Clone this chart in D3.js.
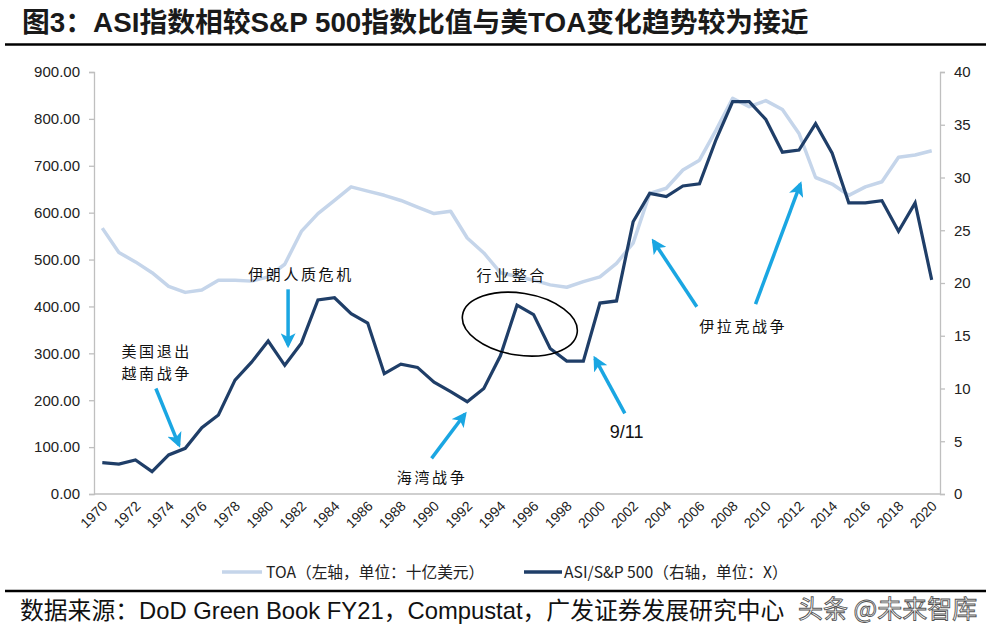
<!DOCTYPE html>
<html lang="zh">
<head>
<meta charset="UTF-8">
<title>ASI / S&P 500 vs TOA</title>
<script src="https://d3js.org/d3.v7.min.js"></script>
<style>
  html, body { margin: 0; padding: 0; background: #fff; }
  svg { display: block; }
  .title { font-family: "Liberation Sans", "Noto Sans CJK SC", sans-serif; font-weight: bold; font-size: 27.8px; fill: #1a1a1a; }
  .tick-l text, .tick-r text { font-family: "Liberation Sans", Arial, sans-serif; font-size: 15px; fill: #222; }
  .xlab { font-family: "Liberation Sans", Arial, sans-serif; font-size: 14px; fill: #222; }
  .note { font-family: "Noto Sans CJK SC", sans-serif; font-size: 15px; fill: #111; letter-spacing: 2.6px; }
  .legend { font-family: "Liberation Sans Narrow", "Noto Sans CJK SC", sans-serif; font-size: 15.7px; fill: #222; }
  .source { font-family: "Liberation Sans", "Noto Sans CJK SC", sans-serif; font-size: 23.8px; fill: #111; }
</style>
</head>
<body>
<svg id="chart" width="1002" height="634"></svg>
<script>
// --- data ---
const years = d3.range(1970, 2021);
const yearLabels = years.filter(y => y % 2 === 0);

// TOA, left axis, billion USD
const toa = [567, 515, 495, 472, 443, 430, 435, 456, 456, 454,
             463, 490, 560, 598, 626, 655, 646, 637, 626, 612,
             598, 603, 546, 514, 472, 464, 456, 446, 441, 453,
             463, 492, 535, 641, 652, 691, 712, 776, 844, 826,
             839, 820, 769, 675, 661, 637, 655, 666, 718, 723, 732];

// ASI / S&P 500 ratio, right axis
const ratio = [2.97, 2.84, 3.22, 2.12, 3.70, 4.33, 6.29, 7.49, 10.8, 12.5,
               14.5, 12.2, 14.3, 18.4, 18.6, 17.1, 16.2, 11.4, 12.3, 12.0,
               10.6, 9.7, 8.75, 10.0, 13.1, 17.9, 17.0, 13.8, 12.6, 12.6,
               18.1, 18.3, 25.8, 28.5, 28.2, 29.2, 29.4, 33.6, 37.2, 37.2,
               35.5, 32.4, 32.6, 35.1, 32.3, 27.6, 27.6, 27.8, 24.9, 27.6, 20.3];

const leftTicks = d3.range(0, 901, 100);
const rightTicks = d3.range(0, 41, 5);

// annotations placed in (year, right-axis value) space
const notes = [
  { lines: ["伊朗人质危机"], x: 1981.9, v: 20.3 },
  { lines: ["美国退出", "越南战争"], x: 1973.2, v: 13.0 },
  { lines: ["海湾战争"], x: 1989.8, v: 1.04 },
  { lines: ["行业整合"], x: 1994.6, v: 20.2 },
  { lines: ["伊拉克战争"], x: 2008.56, v: 15.36 }
];
const arrows = [
  { x1: 1981.2, v1: 19.4, x2: 1981.2, v2: 14.1 },
  { x1: 1973.23, v1: 10.0, x2: 1974.62, v2: 4.64 },
  { x1: 1989.85, v1: 3.38, x2: 1991.86, v2: 7.58 },
  { x1: 2001.5, v1: 7.65, x2: 1999.7, v2: 12.86 },
  { x1: 2005.84, v1: 17.75, x2: 2003.22, v2: 23.98 },
  { x1: 2009.38, v1: 18.0, x2: 2012.08, v2: 29.38 }
];

// --- layout ---
const svg = d3.select("#chart");
const plotL = 94, plotR = 940, plotT = 72, plotB = 494;

const x = d3.scalePoint().domain(years).range([plotL, plotR]).padding(0.5);
const xv = yr => x(1970) + (yr - 1970) * x.step();   // fractional years for notes
const yL = d3.scaleLinear().domain([0, 900]).range([plotB, plotT]);
const yR = d3.scaleLinear().domain([0, 40]).range([plotB, plotT]);

// title + rule
svg.append("text").attr("class", "title").attr("x", 22).attr("y", 32)
  .text("图3：ASI指数相较S&P 500指数比值与美TOA变化趋势较为接近");
svg.append("line").attr("x1", 5).attr("x2", 986).attr("y1", 44.5).attr("y2", 44.5)
  .attr("stroke", "#000").attr("stroke-width", 2.5);

// axes
const axisColor = "#bfbfbf";
const gl = svg.append("g").attr("class", "tick-l").attr("transform", `translate(${plotL},0)`)
  .call(d3.axisLeft(yL).tickValues(leftTicks).tickFormat(d3.format(".2f")).tickSize(5).tickPadding(9));
const gr = svg.append("g").attr("class", "tick-r").attr("transform", `translate(${plotR},0)`)
  .call(d3.axisRight(yR).tickValues(rightTicks).tickSize(5).tickPadding(9));
[gl, gr].forEach(g => {
  g.select(".domain").attr("stroke", axisColor).attr("stroke-width", 1.3);
  g.selectAll(".tick line").attr("stroke", axisColor).attr("stroke-width", 1.3);
});
svg.append("line").attr("x1", plotL).attr("x2", plotR).attr("y1", plotB).attr("y2", plotB)
  .attr("stroke", axisColor).attr("stroke-width", 1.3);

svg.append("g").selectAll("text").data(yearLabels).join("text")
  .attr("class", "xlab")
  .attr("text-anchor", "end")
  .attr("transform", d => `translate(${x(d) + 6},${plotB + 13}) rotate(-45)`)
  .text(d => d);

// lines
const lineL = d3.line().x((d, i) => x(years[i])).y(d => yL(d));
const lineR = d3.line().x((d, i) => x(years[i])).y(d => yR(d));
svg.append("path").datum(toa).attr("d", lineL)
  .attr("fill", "none").attr("stroke", "#c5d5ea").attr("stroke-width", 3.5).attr("stroke-linejoin", "round");
svg.append("path").datum(ratio).attr("d", lineR)
  .attr("fill", "none").attr("stroke", "#1f3e68").attr("stroke-width", 3.2).attr("stroke-linejoin", "miter");

// annotations
const arrowColor = "#1aa6e2";
svg.append("defs").append("marker")
  .attr("id", "head").attr("viewBox", "0 0 10 10").attr("refX", 8).attr("refY", 5)
  .attr("markerUnits", "userSpaceOnUse").attr("markerWidth", 15).attr("markerHeight", 15)
  .attr("orient", "auto")
  .append("path").attr("d", "M0,0 L10,5 L0,10 L2.5,5 Z").attr("fill", arrowColor);

svg.append("g").selectAll("line").data(arrows).join("line")
  .attr("x1", d => xv(d.x1)).attr("y1", d => yR(d.v1))
  .attr("x2", d => xv(d.x2)).attr("y2", d => yR(d.v2))
  .attr("stroke", arrowColor).attr("stroke-width", 3.5)
  .attr("marker-end", "url(#head)");

const ng = svg.append("g");
notes.forEach(n => {
  n.lines.forEach((t, i) => {
    ng.append("text").attr("class", "note").attr("text-anchor", "middle")
      .attr("x", xv(n.x) + 1.3).attr("y", yR(n.v) + i * 22).text(t);
  });
});
svg.append("text").attr("x", xv(2001.61)).attr("y", yR(5.31))
  .attr("text-anchor", "middle")
  .style("font-family", "'Liberation Sans', Arial, sans-serif").style("font-size", "18px").style("fill", "#111")
  .text("9/11");

svg.append("ellipse")
  .attr("transform", `translate(${xv(1995.17)},${yR(16.1)}) rotate(9)`)
  .attr("rx", 58).attr("ry", 31)
  .attr("fill", "none").attr("stroke", "#000").attr("stroke-width", 1.6);

// legend
const lg = svg.append("g").attr("transform", "translate(0,572)");
lg.append("line").attr("x1", 222).attr("x2", 262).attr("stroke", "#c5d5ea").attr("stroke-width", 3.5);
lg.append("text").attr("class", "legend").attr("x", 266).attr("y", 5.5).text("TOA（左轴，单位：十亿美元）");
lg.append("line").attr("x1", 524).attr("x2", 562).attr("stroke", "#1f3e68").attr("stroke-width", 3.5);
lg.append("text").attr("class", "legend").attr("x", 564).attr("y", 5.5).text("ASI/S&P 500（右轴，单位：X）");

// source rule + text
svg.append("line").attr("x1", 5).attr("x2", 986).attr("y1", 591).attr("y2", 591)
  .attr("stroke", "#000").attr("stroke-width", 2.5);
svg.append("text").attr("class", "source").attr("x", 20).attr("y", 619)
  .text("数据来源：DoD Green Book FY21，Compustat，广发证券发展研究中心");
svg.append("text").attr("x", 798).attr("y", 618)
  .style("font-family", "'Noto Sans CJK SC', sans-serif").style("font-size", "25px")
  .style("fill", "#fff").style("stroke", "#555").style("stroke-width", 0.9)
  .text("头条 @未来智库");
</script>
</body>
</html>
